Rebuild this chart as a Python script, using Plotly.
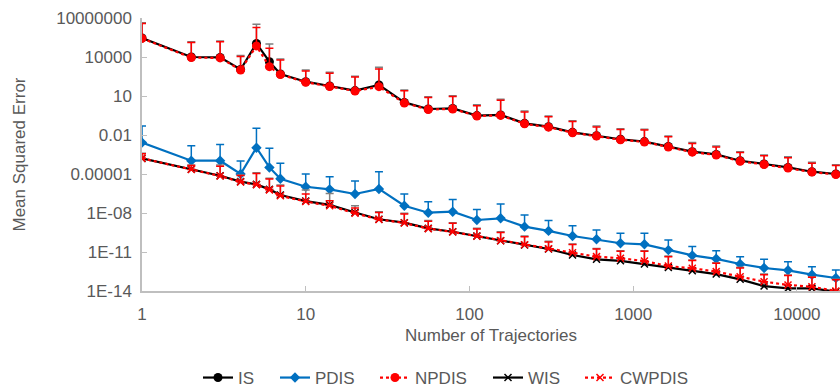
import plotly.graph_objects as go

x_traj = [1, 2, 3, 4, 5, 6, 7, 10, 14, 20, 28, 40, 56, 79, 111, 155, 217, 304, 426, 597,
          836, 1171, 1639, 2295, 3214, 4499, 6299, 8819, 12347, 17286]

is_mse = [2.9e5, 1.0e4, 9.3e3, 1.1e3, 1.1e5, 4.4e3, 490, 126, 59, 26, 71, 3.2, 1.0, 1.1, 0.31,
          0.35, 0.079, 0.044, 0.016, 0.0089, 0.0047, 0.0031, 0.0013, 5.2e-4, 3.2e-4, 1.05e-4,
          5.9e-5, 3.2e-5, 1.5e-5, 1.0e-5]
is_top = [4.4e6, 1.5e5, 1.7e5, 1.3e4, 3.3e6, 1.0e5, 7.0e3, 1.0e3, 660, 330, 1.6e3, 29, 8.9,
          10.5, 2.1, 5.6, 0.71, 0.29, 0.126, 0.049, 0.030, 0.028, 0.0083, 0.0026, 0.0014,
          5.2e-4, 2.9e-4, 2.1e-4, 7.9e-5, 5.2e-5]

npdis_mse = [2.7e5, 9.0e3, 8.5e3, 1.0e3, 7.1e4, 1.8e3, 450, 115, 54, 24, 52, 2.9, 0.92, 1.0,
             0.29, 0.32, 0.072, 0.040, 0.015, 0.0082, 0.0043, 0.0029, 0.0012, 4.8e-4, 2.9e-4,
             9.6e-5, 5.4e-5, 2.9e-5, 1.4e-5, 9.2e-6]
npdis_top = [3.8e6, 1.3e5, 1.5e5, 1.1e4, 1.9e6, 4.7e4, 6.0e3, 8.5e2, 560, 290, 1.2e3, 25,
             7.6, 9.0, 1.8, 4.8, 0.6, 0.25, 0.11, 0.042, 0.026, 0.024, 0.0072, 0.0022,
             0.0012, 4.5e-4, 2.5e-4, 1.8e-4, 6.8e-5, 4.5e-5]

pdis_mse = [2.6e-3, 1.05e-4, 1.05e-4, 1.0e-5, 1.05e-3, 3.2e-5, 4.3e-6, 1.05e-6, 6.6e-7, 2.9e-7,
            7.1e-7, 3.6e-8, 1.05e-8, 1.26e-8, 2.9e-9, 3.9e-9, 8.9e-10, 4.2e-10, 1.7e-10,
            9.5e-11, 4.7e-11, 3.9e-11, 1.4e-11, 5.5e-12, 3.0e-12, 1.2e-12, 5.9e-13, 3.9e-13,
            1.8e-13, 1.0e-13]
pdis_top = [0.049, 1.5e-3, 1.9e-3, 1.0e-4, 0.033, 9.5e-4, 6.6e-5, 1.0e-5, 6.2e-6, 2.9e-6,
            1.5e-5, 2.9e-7, 7.4e-8, 1.1e-7, 1.9e-8, 4.9e-8, 7.1e-9, 2.6e-9, 1.05e-9, 4.9e-10,
            2.8e-10, 2.8e-10, 8.3e-11, 2.6e-11, 1.26e-11, 4.4e-12, 2.8e-12, 1.8e-12, 7.4e-13,
            4.2e-13]

wis_mse = [1.6e-4, 2.3e-5, 7.4e-6, 2.6e-6, 1.6e-6, 6.6e-7, 2.4e-7, 8.3e-8, 4.2e-8, 1.1e-8,
           3.3e-9, 1.8e-9, 6.6e-10, 3.6e-10, 1.7e-10, 7.4e-11, 3.5e-11, 1.7e-11, 5.9e-12,
           2.75e-12, 2.1e-12, 1.2e-12, 6.6e-13, 3.6e-13, 2.0e-13, 7.9e-14, 2.4e-14, 1.6e-14,
           1.6e-14, 8.9e-15]
wis_top = [3.9e-4, 5.0e-5, 4.9e-5, 8.3e-6, 1.26e-5, 4.7e-6, 1.4e-6, 5.9e-7, 3.2e-7, 3.6e-8,
           1.26e-8, 9.5e-9, 2.6e-9, 1.8e-9, 6.6e-10, 3.6e-10, 1.7e-10, 6.6e-11, 4.2e-11,
           1.9e-11, 1.26e-11, 1.26e-11, 4.9e-12, 2.4e-12, 1.5e-12, 6.6e-13, 2.0e-13, 1.7e-13,
           1.26e-13, 7.9e-14]

cwpdis_mse = [1.6e-4, 2.2e-5, 7.0e-6, 2.4e-6, 1.5e-6, 6.0e-7, 2.1e-7, 7.6e-8, 3.6e-8, 9.5e-9,
              3.2e-9, 1.7e-9, 6.3e-10, 3.5e-10, 1.65e-10, 7.4e-11, 3.6e-11, 1.8e-11, 8.9e-12,
              4.4e-12, 3.3e-12, 2.0e-12, 8.3e-13, 5.6e-13, 3.1e-13, 1.26e-13, 5.2e-14, 2.9e-14,
              2.1e-14, 1.0e-14]
cwpdis_top = [3.6e-4, 4.6e-5, 3.9e-5, 7.6e-6, 1.1e-5, 4.2e-6, 1.2e-6, 2.9e-7, 8.9e-8, 2.4e-8,
              1.1e-8, 8.5e-9, 2.3e-9, 1.6e-9, 5.9e-10, 3.2e-10, 1.5e-10, 6.0e-11, 3.8e-11,
              1.7e-11, 1.15e-11, 1.15e-11, 4.4e-12, 2.2e-12, 1.35e-12, 6.0e-13, 1.8e-13,
              1.55e-13, 1.15e-13, 7.2e-14]

y_tickvals = [1e-14, 1e-11, 1e-8, 1e-5, 1e-2, 1e1, 1e4, 1e7]
y_ticktext = ["1E-14", "1E-11", "1E-08", "0.00001", "0.01", "10", "10000", "10000000"]
x_tickvals = [1, 10, 100, 1000, 10000]
x_ticktext = ["1", "10", "100", "1000", "10000"]

FONT = "Liberation Sans, Arial, sans-serif"
GREY_TXT = "#595959"
AXIS = "#BFBFBF"
FS = 17
W, H = 840, 389

# pixel x where each legend entry's text begins in the reference
legend_text_px = [238, 315, 415, 528, 620]
LEGEND_TEXT_Y_PX = 378


def err(vals, tops):
    return [t - v for v, t in zip(vals, tops)]


fig = go.Figure()
legend_names = ["legend", "legend2", "legend3", "legend4", "legend5"]


def add(i, name, y, top, color, dash, symbol, msize, ecolor, lw=2.2):
    fig.add_trace(go.Scatter(
        x=x_traj, y=y, name=name, mode="lines+markers", legend=legend_names[i],
        line=dict(color=color, width=lw, dash=dash),
        marker=dict(symbol=symbol, size=msize, color=color,
                    line=dict(color=color, width=1.5 if "x" in symbol else 0)),
        error_y=dict(type="data", symmetric=False, array=err(y, top),
                     arrayminus=[0] * len(y), color=ecolor, thickness=1.5, width=4),
    ))


add(0, "IS", is_mse, is_top, "#000000", "solid", "circle", 9, "#7F7F7F")
add(1, "PDIS", pdis_mse, pdis_top, "#0070C0", "solid", "diamond", 8, "#0070C0")
add(2, "NPDIS", npdis_mse, npdis_top, "#FF0000", "dot", "circle", 9, "#FF0000")
add(3, "WIS", wis_mse, wis_top, "#000000", "solid", "x-thin", 7, "#7F7F7F")
add(4, "CWPDIS", cwpdis_mse, cwpdis_top, "#FF0000", "dot", "x-thin", 7, "#FF0000")

legends = {}
for i, ln in enumerate(legend_names):
    legends[ln] = dict(
        orientation="h", xref="container", yref="container",
        x=(legend_text_px[i] - 40) / W, xanchor="left",
        y=1 - LEGEND_TEXT_Y_PX / H, yanchor="middle",
        font=dict(size=FS, color=GREY_TXT), bgcolor="rgba(0,0,0,0)",
    )

fig.update_layout(
    width=W, height=H,
    margin=dict(l=142, r=0, t=18, b=98),
    paper_bgcolor="white", plot_bgcolor="white",
    font=dict(family=FONT, size=FS, color=GREY_TXT),
    showlegend=True,
    **legends,
)
fig.update_xaxes(
    type="log", range=[0, 4.263], tickvals=x_tickvals, ticktext=x_ticktext,
    showgrid=False, zeroline=False, showline=True, linecolor=AXIS, linewidth=1.5,
    ticks="inside", ticklen=5, tickcolor=AXIS, tickwidth=1, ticklabelstandoff=7,
    tickfont=dict(size=FS, color=GREY_TXT), automargin=False,
    title=dict(text="Number of Trajectories", font=dict(size=FS, color=GREY_TXT), standoff=6),
)
fig.update_yaxes(
    type="log", range=[-14, 7], tickvals=y_tickvals, ticktext=y_ticktext,
    showgrid=False, zeroline=False, showline=True, linecolor=AXIS, linewidth=1.5,
    ticks="inside", ticklen=5, tickcolor=AXIS, tickwidth=1, ticklabelstandoff=5,
    tickfont=dict(size=FS, color=GREY_TXT), automargin=False,
    title=dict(text="Mean Squared Error", font=dict(size=FS, color=GREY_TXT), standoff=26),
)

fig.write_html("out.html")
